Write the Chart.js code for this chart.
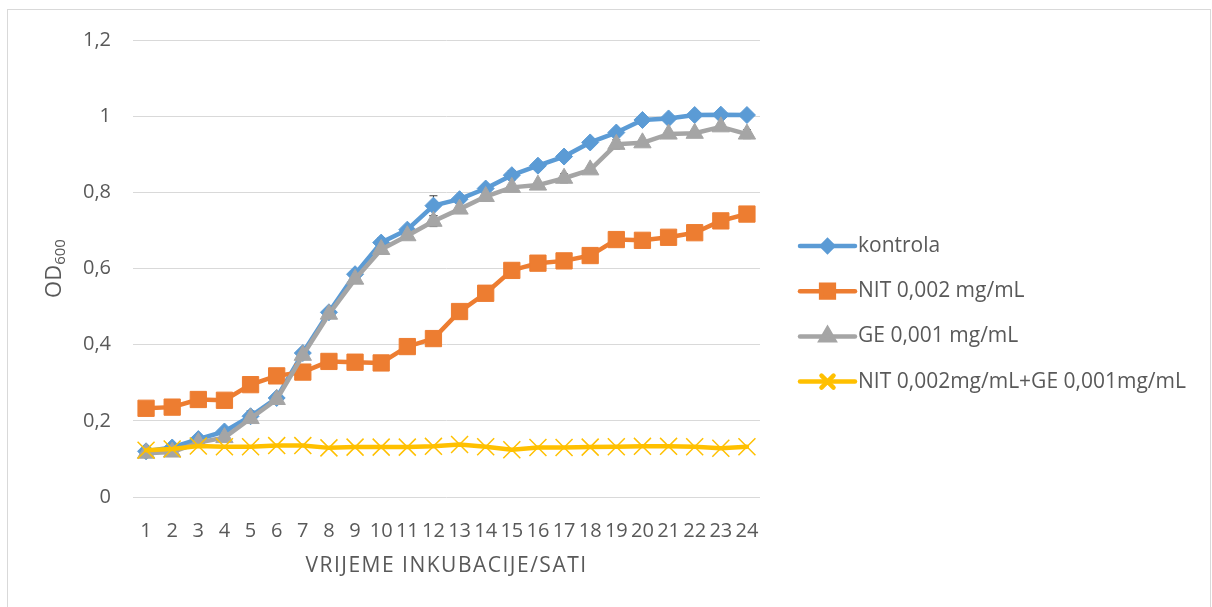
<!DOCTYPE html>
<html lang="hr">
<head>
    <meta charset="UTF-8">
    <title>OD600 - vrijeme inkubacije</title>
    <style>
        html, body { margin: 0; padding: 0; background: #fff; }
        #wrap { position: relative; width: 1212px; height: 607px; overflow: hidden; }
        #frame { position: absolute; left: 7px; top: 9px; width: 1202px; height: 620px; border: 1px solid #D9D9D9; }
        #wrap canvas { position: absolute; left: 0; top: 0; }
    </style>
    <script src="https://cdn.jsdelivr.net/npm/chart.js@4.4.0/dist/chart.umd.min.js"></script>
</head>
<body>
<div id="wrap">
    <div id="frame"></div>
    <canvas id="grafikon" width="1212" height="607"></canvas>
</div>
<script>
    // sati inkubacije
    const sati = ['1', '2', '3', '4', '5', '6', '7', '8', '9', '10', '11', '12',
                  '13', '14', '15', '16', '17', '18', '19', '20', '21', '22', '23', '24'];

    const kontrola = [0.120, 0.130, 0.152, 0.172, 0.212, 0.260, 0.378, 0.485, 0.585, 0.668, 0.702, 0.765,
                      0.782, 0.810, 0.845, 0.870, 0.894, 0.931, 0.957, 0.990, 0.994, 1.003, 1.004, 1.003];
    const nit = [0.233, 0.236, 0.256, 0.254, 0.295, 0.318, 0.328, 0.356, 0.354, 0.352, 0.395, 0.416,
                 0.487, 0.535, 0.595, 0.614, 0.620, 0.634, 0.676, 0.674, 0.682, 0.694, 0.725, 0.743];
    const ge = [0.115, 0.118, 0.143, 0.156, 0.206, 0.256, 0.372, 0.480, 0.572, 0.650, 0.686, 0.724,
                0.756, 0.789, 0.813, 0.819, 0.837, 0.859, 0.926, 0.930, 0.953, 0.955, 0.972, 0.953];
    const nitGe = [0.123, 0.126, 0.134, 0.132, 0.132, 0.135, 0.135, 0.129, 0.131, 0.131, 0.131, 0.133,
                   0.138, 0.132, 0.124, 0.130, 0.130, 0.131, 0.132, 0.133, 0.133, 0.132, 0.128, 0.132];

    // standardne devijacije (vidljive samo gdje vire iznad markera)
    const kontrolaSd = [0, 0, 0, 0, 0.014, 0, 0, 0, 0, 0.012, 0, 0.026,
                        0, 0, 0.012, 0, 0, 0, 0, 0, 0, 0, 0, 0];
    const geSd = [0, 0, 0, 0, 0, 0, 0, 0, 0, 0, 0, 0.014,
                  0, 0, 0, 0, 0.012, 0, 0.012, 0, 0, 0, 0, 0.012];

    const yTicks = [0, 0.2, 0.4, 0.6, 0.8, 1, 1.2];

    const tekst = '#595959';
    const font = "'Open Sans', 'Noto Sans', sans-serif";
    Chart.defaults.font.family = font;
    Chart.defaults.color = tekst;

    const legendMarkers = [
        { pointStyle: 'rectRot', radius: 5.5 },
        { pointStyle: 'rect', radius: 9 },
        { pointStyle: 'triangle', radius: 7.5 },
        { pointStyle: 'crossRot', radius: 8.5 }
    ];

    const errorBars = {
        id: 'errorBars',
        beforeDatasetsDraw(chart) {
            const ctx = chart.ctx;
            const xs = chart.scales.x, ys = chart.scales.y;
            const sets = [[kontrola, kontrolaSd], [ge, geSd]];
            ctx.save();
            ctx.strokeStyle = '#404040';
            ctx.lineWidth = 1;
            sets.forEach(([vals, sd]) => {
                vals.forEach((v, i) => {
                    if (!sd[i]) return;
                    const x = xs.getPixelForValue(i);
                    const y1 = ys.getPixelForValue(v + sd[i]);
                    const y2 = ys.getPixelForValue(v - sd[i]);
                    ctx.beginPath();
                    ctx.moveTo(x, y1); ctx.lineTo(x, y2);
                    ctx.moveTo(x - 4, y1); ctx.lineTo(x + 4, y1);
                    ctx.moveTo(x - 4, y2); ctx.lineTo(x + 4, y2);
                    ctx.stroke();
                });
            });
            ctx.restore();
        }
    };

    const titlesAndLegend = {
        id: 'titlesAndLegend',
        afterDraw(chart) {
            const ctx = chart.ctx;
            const area = chart.chartArea;
            ctx.save();
            ctx.fillStyle = tekst;

            // naslov x osi
            ctx.font = '21px ' + font;
            ctx.letterSpacing = '1.5px';
            ctx.textAlign = 'center';
            ctx.textBaseline = 'middle';
            ctx.fillText('VRIJEME INKUBACIJE/SATI', (area.left + area.right) / 2, 566);
            ctx.letterSpacing = '0px';

            // naslov y osi: OD s indeksom 600
            ctx.translate(55, (area.top + area.bottom) / 2);
            ctx.rotate(-Math.PI / 2);
            ctx.textAlign = 'left';
            ctx.font = '22px ' + font;
            const wOd = ctx.measureText('OD').width;
            ctx.font = '15px ' + font;
            const wSub = ctx.measureText('600').width;
            const start = -(wOd + wSub) / 2;
            ctx.font = '22px ' + font;
            ctx.fillText('OD', start, 0);
            ctx.font = '15px ' + font;
            ctx.fillText('600', start + wOd, 6);
            ctx.restore();

            // legenda
            ctx.save();
            chart.data.datasets.forEach((ds, i) => {
                const y = 246 + i * 45.2;
                ctx.strokeStyle = ds.borderColor;
                ctx.lineWidth = 4.5;
                ctx.lineCap = 'round';
                ctx.beginPath();
                ctx.moveTo(800, y);
                ctx.lineTo(855, y);
                ctx.stroke();
                ctx.fillStyle = ds.pointBackgroundColor;
                ctx.strokeStyle = ds.pointBorderColor;
                const m = legendMarkers[i];
                Chart.helpers.drawPoint(ctx, {
                    pointStyle: m.pointStyle, radius: m.radius, rotation: 0,
                    borderWidth: ds.pointBorderWidth
                }, 827.5, y);
                ctx.fillStyle = tekst;
                ctx.font = '21px ' + font;
                ctx.textAlign = 'left';
                ctx.textBaseline = 'middle';
                ctx.fillText(ds.label, 858, y);
            });
            ctx.restore();
        }
    };

    function serija(label, data, color, style, radius, order, bw) {
        return {
            label: label,
            data: data,
            borderColor: color,
            backgroundColor: color,
            borderWidth: 4.5,
            borderJoinStyle: 'round',
            borderCapStyle: 'round',
            tension: 0,
            pointStyle: style,
            pointRadius: radius,
            pointBackgroundColor: color,
            pointBorderColor: color,
            pointBorderWidth: bw,
            order: order,
            fill: false
        };
    }

    new Chart(document.getElementById('grafikon'), {
        type: 'line',
        data: {
            labels: sati,
            datasets: [
                serija('kontrola', kontrola, '#5B9BD5', 'rectRot', 8.5, 4, 1),
                serija('NIT 0,002 mg/mL', nit, '#ED7D31', 'rect', 11.5, 3, 1),
                serija('GE 0,001 mg/mL', ge, '#A5A5A5', 'triangle', 10, 2, 1),
                serija('NIT 0,002mg/mL+GE 0,001mg/mL', nitGe, '#FFC000', 'crossRot', 12, 1, 1.5)
            ]
        },
        options: {
            responsive: false,
            animation: false,
            events: [],
            layout: { padding: { left: 0, right: 452, top: 40, bottom: 0 } },
            plugins: {
                legend: { display: false },
                tooltip: { enabled: false }
            },
            scales: {
                x: {
                    offset: true,
                    grid: { display: false },
                    border: { display: false },
                    ticks: {
                        autoSkip: false, maxRotation: 0, minRotation: 0,
                        padding: 14,
                        font: { size: 20 }
                    },
                    afterFit(s) { s.height = 110; }
                },
                y: {
                    min: 0,
                    max: 1.2,
                    afterBuildTicks(s) { s.ticks = yTicks.map(v => ({ value: v })); },
                    grid: { color: '#D9D9D9', lineWidth: 1, drawTicks: false },
                    border: { display: false },
                    ticks: {
                        padding: 22,
                        font: { size: 20 },
                        callback: v => String(Math.round(v * 10) / 10).replace('.', ',')
                    },
                    afterFit(s) { s.width = 133; }
                }
            }
        },
        plugins: [errorBars, titlesAndLegend]
    });
</script>
</body>
</html>
